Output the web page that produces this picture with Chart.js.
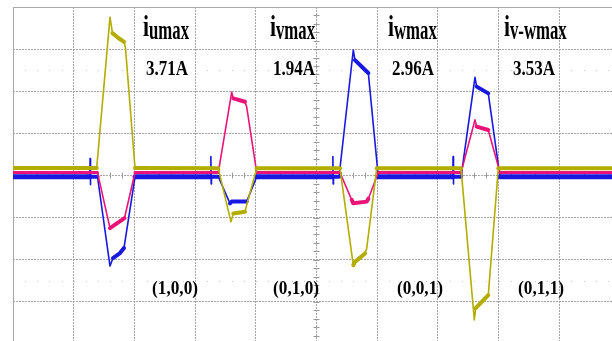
<!DOCTYPE html>
<html><head><meta charset="utf-8">
<script src="https://cdn.jsdelivr.net/npm/chart.js@4.4.1/dist/chart.umd.min.js"></script>
<style>html,body{margin:0;padding:0;background:#fff;overflow:hidden;width:612px;height:341px}canvas{display:block}</style>
</head><body><canvas id="c" width="622" height="346"></canvas>
<script>
// ---- data (time in divisions, current in A; 1 A/div) ----
const tU = [0, 1.379, 1.598, 1.639, 1.730, 1.829, 1.853, 2.010, 3.382, 3.591, 3.629, 3.822, 3.850, 4.015, 5.387, 5.606, 5.634, 5.799, 5.827, 5.992, 7.381, 7.600, 7.623, 7.830, 7.995, 10];
const iU = [0.18, 0.18, 3.76, 3.38, 3.27, 3.17, 3.03, 0.18, 0.17, -1.10, -0.90, -0.86, -0.70, 0.17, 0.17, -2.13, -2.05, -1.85, -1.73, 0.17, 0.17, -3.43, -3.15, -2.84, 0.17, 0.17];
const tV = [0, 1.392, 1.598, 1.837, 2.010, 3.382, 3.603, 3.629, 3.822, 3.850, 4.015, 5.387, 5.580, 5.606, 5.827, 5.854, 6.018, 7.381, 7.611, 7.639, 7.830, 8.023, 10];
const iV = [0.07, 0.07, -1.25, -1.01, 0.07, 0.07, 1.98, 1.83, 1.75, 1.63, 0.07, 0.07, -0.58, -0.66, -0.62, -0.55, 0.07, 0.07, 1.32, 1.16, 1.08, 0.07, 0.07];
const tW = [0, 1.265, 1.270, 1.275, 1.280, 1.392, 1.598, 1.647, 1.763, 1.829, 2.010, 3.255, 3.260, 3.265, 3.270, 3.382, 3.575, 3.603, 3.850, 4.015, 5.265, 5.270, 5.275, 5.280, 5.371, 5.606, 5.634, 5.827, 5.854, 6.018, 7.245, 7.250, 7.255, 7.260, 7.381, 7.611, 7.639, 7.830, 8.023, 10];
const iW = [-0.03, -0.03, 0.40, -0.22, -0.03, -0.03, -2.15, -1.96, -1.84, -1.72, -0.03, -0.03, 0.45, -0.20, -0.03, -0.03, -0.66, -0.62, -0.62, -0.03, -0.03, 0.45, -0.20, -0.03, -0.03, 2.98, 2.74, 2.47, 2.43, -0.03, -0.03, 0.45, -0.20, -0.03, -0.03, 2.33, 2.11, 1.95, -0.03, -0.03];
const peakNames = ['umax', 'vmax', 'wmax', 'v-wmax'];
const peakValues = ['3.71A', '1.94A', '2.96A', '3.53A'];
const vectorLabels = ['(1,0,0)', '(0,1,0)', '(0,0,1)', '(0,1,1)'];

const zip = (t, v) => t.map((x, k) => ({x: x, y: v[k]}));
const baseWidths = [4, 3, 5];
const plateauWidths = [4, 4, 4];

function segWidth(ctx) {
  const dx = Math.abs(ctx.p1.x - ctx.p0.x), dy = Math.abs(ctx.p1.y - ctx.p0.y);
  if (dy / Math.max(dx, 0.5) > 2.2) return 1.6;
  return dx > 40 ? baseWidths[ctx.datasetIndex] : plateauWidths[ctx.datasetIndex];
}

const scopePlugin = {
  id: 'scope',
  beforeDatasetsDraw(chart) {
    const ctx = chart.ctx, a = chart.chartArea, xs = chart.scales.x, ys = chart.scales.y;
    ctx.save();
    ctx.strokeStyle = '#a8a8a8'; ctx.lineWidth = 1;
    ctx.beginPath(); ctx.moveTo(a.left, a.top + 0.5); ctx.lineTo(a.right, a.top + 0.5); ctx.stroke();
    ctx.beginPath(); ctx.moveTo(a.left + 0.5, a.top); ctx.lineTo(a.left + 0.5, a.bottom); ctx.stroke();
    // minor ticks on centre axes
    const y0 = ys.getPixelForValue(0), x0 = xs.getPixelForValue(5);
    ctx.strokeStyle = '#9a9a9a';
    for (let t = 0; t <= 10; t += 0.2) {
      const px = Math.round(xs.getPixelForValue(t)) + 0.5;
      ctx.beginPath(); ctx.moveTo(px, y0 - 3); ctx.lineTo(px, y0 + 3); ctx.stroke();
    }
    for (let v = -4; v <= 4; v += 0.2) {
      const py = Math.round(ys.getPixelForValue(v)) + 0.5;
      ctx.beginPath(); ctx.moveTo(x0 - 3, py); ctx.lineTo(x0 + 3, py); ctx.stroke();
    }
    // faint dotted rows at +/-2.5 div
    ctx.fillStyle = '#c8c8c8';
    [2.5, -2.5].forEach(v => {
      const py = Math.round(ys.getPixelForValue(v));
      for (let t = 0.2; t < 10; t += 0.2) {
        ctx.fillRect(Math.round(xs.getPixelForValue(t)), py, 1, 1);
      }
    });
    ctx.restore();
  },
  afterDatasetsDraw(chart) {
    const ctx = chart.ctx;
    ctx.save();
    ctx.fillStyle = '#000';
    ctx.textBaseline = 'alphabetic';
    const put = (s, x, y, font, sx) => {
      ctx.save(); ctx.font = font; ctx.translate(x, y); ctx.scale(sx, 1); ctx.fillText(s, 0, 0);
      const w = ctx.measureText(s).width * sx; ctx.restore(); return w;
    };
    const iX = [143, 270, 388, 504], vX = [146, 273, 392, 513], cX = [152, 273, 397, 518];
    for (let k = 0; k < 4; k++) {
      const w = put('i', iX[k], 36, 'bold 30px "Liberation Serif"', 0.72);
      put(peakNames[k], iX[k] + w, 39, 'bold 27px "Liberation Serif"', 0.62);
      put(peakValues[k], vX[k], 75, 'bold 20px "Liberation Serif"', 0.85);
      put(vectorLabels[k], cX[k], 294, 'bold 18px "Liberation Serif"', 0.96);
    }
    ctx.restore();
  }
};

new Chart(document.getElementById('c'), {
  type: 'line',
  data: {
    datasets: [
      {data: zip(tU, iU), borderColor: '#b3ad00'},
      {data: zip(tV, iV), borderColor: '#ea1478'},
      {data: zip(tW, iW), borderColor: '#1818e0'}
    ].map(d => Object.assign(d, {pointRadius: 0, borderWidth: 2, tension: 0, fill: false,
      borderJoinStyle: 'round', borderCapStyle: 'round', segment: {borderWidth: segWidth}}))
  },
  options: {
    responsive: false, animation: false, devicePixelRatio: 1,
    layout: {padding: {left: 13, top: 7, right: 2, bottom: 2}},
    plugins: {legend: {display: false}, tooltip: {enabled: false}},
    scales: {
      x: {type: 'linear', min: 0, max: 10, ticks: {display: false, stepSize: 1},
          grid: {color: '#a6a6a6', drawTicks: false},
          border: {display: false, dash: [2, 1]}},
      y: {type: 'linear', min: -4, max: 4, ticks: {display: false, stepSize: 1},
          grid: {color: '#a6a6a6', drawTicks: false},
          border: {display: false, dash: [2, 1]}}
    }
  },
  plugins: [scopePlugin]
});
</script></body></html>
